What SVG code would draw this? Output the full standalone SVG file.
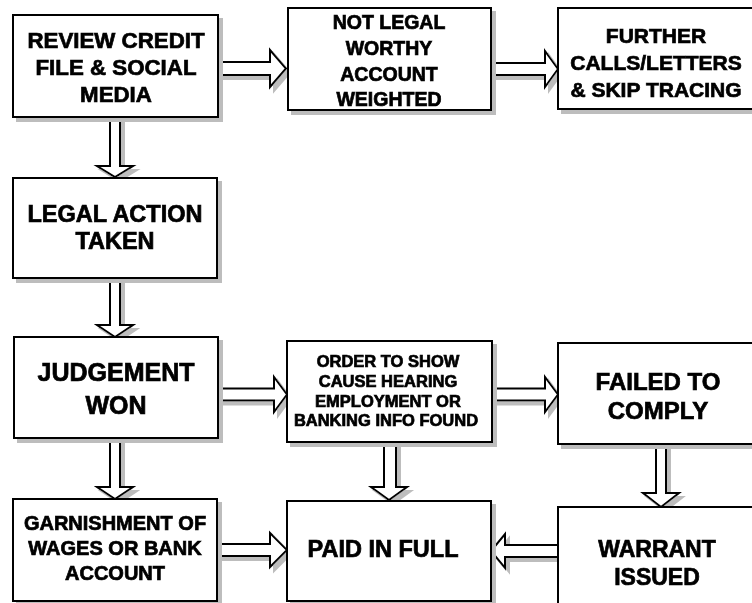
<svg xmlns="http://www.w3.org/2000/svg" width="752" height="603" viewBox="0 0 752 603">
<style>
.box{fill:#fff;stroke:#000;stroke-width:2}
.arr{fill:#fff;stroke:#000;stroke-width:2;stroke-linejoin:miter}
text{font-family:"Liberation Sans",Arial,Helvetica,sans-serif;font-weight:bold;fill:#000;stroke:#000;stroke-width:0.7;text-anchor:middle}
</style>
<defs>
<filter id="sh" x="-10%" y="-10%" width="130%" height="130%">
<feOffset in="SourceAlpha" dx="4" dy="4" result="o"/>
<feGaussianBlur in="o" stdDeviation="0.6" result="b"/>
<feFlood flood-color="#bdbdbd"/>
<feComposite in2="b" operator="in"/>
<feMerge><feMergeNode/><feMergeNode in="SourceGraphic"/></feMerge>
</filter>
</defs>
<rect width="752" height="603" fill="#fff"/>
<g id="connectors" filter="url(#sh)">
<path class="arr" d="M218,62 H270 V50 L286,68.5 L270,87 V75 H218 Z"/>
<path class="arr" d="M491,63 H545 V51 L558,69 L545,87 V75 H491 Z"/>
<path class="arr" d="M110,117 V166 H97 L115,177 L133,166 H120 V117 Z"/>
<path class="arr" d="M110,278 V325 H97 L115,337 L133,325 H120 V278 Z"/>
<path class="arr" d="M218,388.5 H274 V377 L287,394.5 L274,412 V400.5 H218 Z"/>
<path class="arr" d="M492,388.5 H545 V377 L558,394.5 L545,412 V400.5 H492 Z"/>
<path class="arr" d="M656,444 V493 H643 L661,507 L679,493 H666 V444 Z"/>
<path class="arr" d="M384,442 V487 H371 L389,500 L407,487 H396 V442 Z"/>
<path class="arr" d="M558,545 H505 V534 L491,551 L505,568 V557 H558 Z"/>
<path class="arr" d="M217,544 H270 V533 L287,550 L270,567 V556 H217 Z"/>
<path class="arr" d="M110,438 V487 H97 L115,499 L133,487 H120 V438 Z"/>
</g>
<g id="n1" filter="url(#sh)"><rect class="box" x="13" y="15" width="205" height="102"/>
<text font-size="22.3" x="116" y="48">REVIEW CREDIT</text><text font-size="22.3" x="116" y="75">FILE &amp; SOCIAL</text><text font-size="22.3" x="116" y="102">MEDIA</text></g>
<g id="n2" filter="url(#sh)"><rect class="box" x="288" y="8" width="203" height="102"/>
<text font-size="19.5" x="389" y="29">NOT LEGAL</text><text font-size="19.5" x="389" y="55">WORTHY</text><text font-size="19.5" x="389" y="81">ACCOUNT</text><text font-size="19.5" x="389" y="106">WEIGHTED</text></g>
<g id="n3" filter="url(#sh)"><rect class="box" x="558" y="8" width="200" height="101"/>
<text font-size="21" x="656" y="43">FURTHER</text><text font-size="21" x="656" y="70">CALLS/LETTERS</text><text font-size="21" x="656" y="97">&amp; SKIP TRACING</text></g>
<g id="n4" filter="url(#sh)"><rect class="box" x="13" y="178" width="204" height="100"/>
<text font-size="23.5" x="115" y="222">LEGAL ACTION</text><text font-size="23.5" x="115" y="249">TAKEN</text></g>
<g id="n5" filter="url(#sh)"><rect class="box" x="14" y="337" width="204" height="101"/>
<text font-size="25" x="116" y="381">JUDGEMENT</text><text font-size="25" x="116" y="414">WON</text></g>
<g id="n6" filter="url(#sh)"><rect class="box" x="287" y="341" width="205" height="101"/>
<text font-size="16.5" x="388" y="367">ORDER TO SHOW</text><text font-size="16.5" x="388" y="387">CAUSE HEARING</text><text font-size="16.5" x="388" y="407">EMPLOYMENT OR</text><text font-size="16.5" x="386" y="426">BANKING INFO FOUND</text></g>
<g id="n7" filter="url(#sh)"><rect class="box" x="558" y="343" width="200" height="101"/>
<text font-size="24" x="658" y="390">FAILED TO</text><text font-size="24" x="658" y="419">COMPLY</text></g>
<g id="n8" filter="url(#sh)"><rect class="box" x="13" y="499" width="204" height="102"/>
<text font-size="20" x="115" y="530">GARNISHMENT OF</text><text font-size="20" x="115" y="555">WAGES OR BANK</text><text font-size="20" x="115" y="580">ACCOUNT</text></g>
<g id="n9" filter="url(#sh)"><rect class="box" x="287" y="501" width="204" height="100"/>
<text font-size="23.5" x="383" y="557">PAID IN FULL</text></g>
<g id="n10" filter="url(#sh)"><rect class="box" x="558" y="507" width="200" height="100"/>
<text font-size="23" x="657" y="557">WARRANT</text><text font-size="23" x="657" y="585">ISSUED</text></g>
</svg>
